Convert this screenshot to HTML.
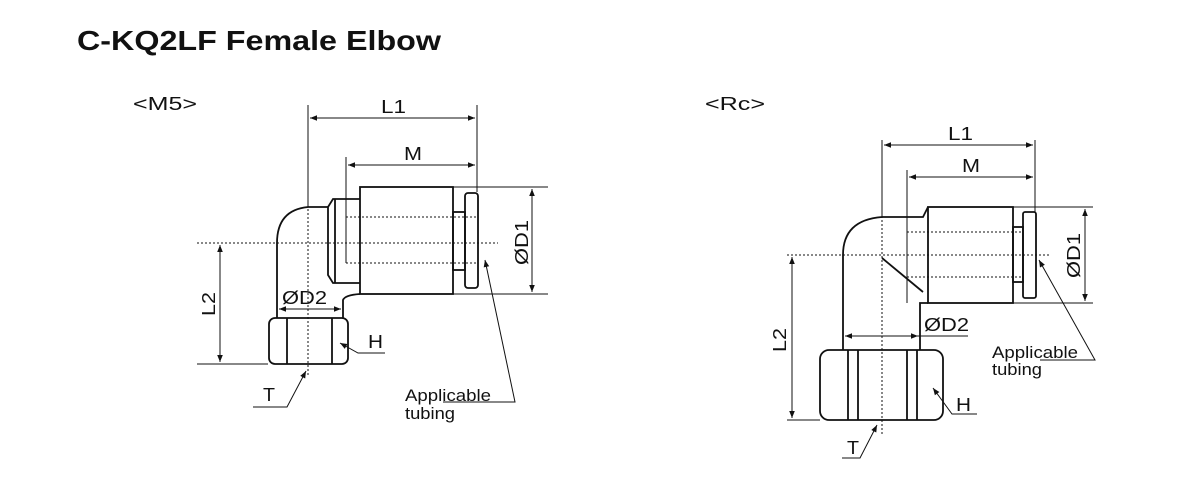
<!DOCTYPE html>
<html><head><meta charset="utf-8"><style>
html,body{margin:0;padding:0;background:#fff;width:1200px;height:500px;overflow:hidden}
svg{display:block}
text{font-family:"Liberation Sans",Arial,sans-serif;fill:#111}
</style></head><body>
<svg width="1200" height="500" viewBox="0 0 1200 500" xmlns="http://www.w3.org/2000/svg">
<defs>
<marker id="a" viewBox="0 0 10 10" refX="10" refY="5" markerWidth="9" markerHeight="7" orient="auto-start-reverse" markerUnits="userSpaceOnUse"><path d="M0,1 L10,5 L0,9 Z" fill="#111"/></marker>
</defs>
<text x="77" y="50" font-size="28" font-weight="bold" textLength="364" lengthAdjust="spacingAndGlyphs">C-KQ2LF Female Elbow</text>
<text x="133" y="110" font-size="18" textLength="64" lengthAdjust="spacingAndGlyphs">&lt;M5&gt;</text>
<text x="705" y="110" font-size="18" textLength="60" lengthAdjust="spacingAndGlyphs">&lt;Rc&gt;</text>

<g stroke="#111" fill="none" stroke-width="1">
<!-- LEFT -->
<line x1="308" y1="105" x2="308" y2="377" stroke-dasharray="2,2"/>
<line x1="308" y1="105" x2="308" y2="206"/>
<line x1="477" y1="105" x2="477" y2="192"/>
<line x1="310" y1="118" x2="475" y2="118" marker-start="url(#a)" marker-end="url(#a)"/>
<line x1="346" y1="157" x2="346" y2="263"/>
<line x1="348" y1="165" x2="475" y2="165" marker-start="url(#a)" marker-end="url(#a)"/>
<line x1="197" y1="243" x2="498" y2="243" stroke-dasharray="2,2"/>
<line x1="346" y1="217" x2="478" y2="217" stroke-dasharray="2,2"/>
<line x1="346" y1="263" x2="478" y2="263" stroke-dasharray="2,2"/>
<line x1="453" y1="187" x2="548" y2="187"/>
<line x1="453" y1="294" x2="548" y2="294"/>
<line x1="532" y1="189" x2="532" y2="292" marker-start="url(#a)" marker-end="url(#a)"/>
<line x1="197" y1="364" x2="268" y2="364"/>
<line x1="220" y1="245" x2="220" y2="362" marker-start="url(#a)" marker-end="url(#a)"/>
<line x1="279" y1="309" x2="341" y2="309" marker-start="url(#a)" marker-end="url(#a)"/>
<polyline points="385,353 358,353 340,343" marker-end="url(#a)"/>
<polyline points="253,407 287,407 306,371" marker-end="url(#a)"/>
<polyline points="443,402 515,402 485,260" marker-end="url(#a)"/>
<g stroke-width="1.8">
<rect x="360" y="187" width="93" height="107"/>
<rect x="453" y="212" width="12" height="58"/>
<rect x="465" y="193" width="13" height="95" rx="3"/>
<path d="M360,199 L333,199 L328,207 L328,275 L333,283 L360,283"/>
<line x1="335" y1="199" x2="335" y2="283"/>
<path d="M328,207 L308,207 Q277,210 277,243 L277,318"/>
<path d="M343,318 L343,300 Q345,295 360,294"/>
<rect x="269" y="318" width="79" height="46" rx="6"/>
<line x1="287" y1="318" x2="287" y2="364"/>
<line x1="332" y1="318" x2="332" y2="364"/>
</g>
<!-- RIGHT -->
<line x1="882" y1="140" x2="882" y2="435" stroke-dasharray="2,2"/>
<line x1="882" y1="140" x2="882" y2="217"/>
<line x1="1035" y1="140" x2="1035" y2="212"/>
<line x1="884" y1="145" x2="1033" y2="145" marker-start="url(#a)" marker-end="url(#a)"/>
<line x1="907" y1="170" x2="907" y2="303"/>
<line x1="909" y1="177" x2="1033" y2="177" marker-start="url(#a)" marker-end="url(#a)"/>
<line x1="787" y1="255" x2="1050" y2="255" stroke-dasharray="2,2"/>
<line x1="907" y1="232" x2="1023" y2="232" stroke-dasharray="2,2"/>
<line x1="907" y1="277" x2="1023" y2="277" stroke-dasharray="2,2"/>
<line x1="1013" y1="207" x2="1093" y2="207"/>
<line x1="1013" y1="303" x2="1093" y2="303"/>
<line x1="1085" y1="209" x2="1085" y2="301" marker-start="url(#a)" marker-end="url(#a)"/>
<line x1="787" y1="420" x2="820" y2="420"/>
<line x1="792" y1="257" x2="792" y2="418" marker-start="url(#a)" marker-end="url(#a)"/>
<line x1="845" y1="336" x2="918" y2="336" marker-start="url(#a)" marker-end="url(#a)"/>
<line x1="918" y1="336" x2="968" y2="336"/>
<polyline points="977,414 952,414 933,388" marker-end="url(#a)"/>
<polyline points="842,458 860,458 877,425" marker-end="url(#a)"/>
<polyline points="1040,360 1095,360 1039,260" marker-end="url(#a)"/>
<g stroke-width="1.8">
<rect x="928" y="207" width="85" height="96"/>
<rect x="1013" y="227" width="10" height="55"/>
<rect x="1023" y="212" width="13" height="86" rx="2"/>
<path d="M928,207 L923,217 L882,217 Q843,220 843,255 L843,350"/>
<path d="M920,350 L920,303 L928,303"/>
<line x1="882" y1="258" x2="923" y2="292"/>
<rect x="820" y="350" width="123" height="70" rx="9"/>
<line x1="848" y1="350" x2="848" y2="420"/>
<line x1="858" y1="350" x2="858" y2="420"/>
<line x1="907" y1="350" x2="907" y2="420"/>
<line x1="917" y1="350" x2="917" y2="420"/>
</g>
</g>

<g font-size="18">
<text x="381" y="113" textLength="25" lengthAdjust="spacingAndGlyphs">L1</text>
<text x="404" y="160" textLength="18" lengthAdjust="spacingAndGlyphs">M</text>
<text x="282" y="304" textLength="45" lengthAdjust="spacingAndGlyphs">ØD2</text>
<text x="368" y="348" textLength="15" lengthAdjust="spacingAndGlyphs">H</text>
<text x="263" y="401" textLength="12" lengthAdjust="spacingAndGlyphs">T</text>
<text x="405" y="401" font-size="17" textLength="86" lengthAdjust="spacingAndGlyphs">Applicable</text>
<text x="405" y="419" font-size="17" textLength="50" lengthAdjust="spacingAndGlyphs">tubing</text>
<text transform="translate(528,265) rotate(-90)" textLength="45" lengthAdjust="spacingAndGlyphs">ØD1</text>
<text transform="translate(215,316) rotate(-90)" textLength="24" lengthAdjust="spacingAndGlyphs">L2</text>

<text x="948" y="140" textLength="25" lengthAdjust="spacingAndGlyphs">L1</text>
<text x="962" y="172" textLength="18" lengthAdjust="spacingAndGlyphs">M</text>
<text x="924" y="331" textLength="45" lengthAdjust="spacingAndGlyphs">ØD2</text>
<text x="956" y="411" textLength="15" lengthAdjust="spacingAndGlyphs">H</text>
<text x="847" y="454" textLength="12" lengthAdjust="spacingAndGlyphs">T</text>
<text x="992" y="358" font-size="17" textLength="86" lengthAdjust="spacingAndGlyphs">Applicable</text>
<text x="992" y="375" font-size="17" textLength="50" lengthAdjust="spacingAndGlyphs">tubing</text>
<text transform="translate(1080,278) rotate(-90)" textLength="45" lengthAdjust="spacingAndGlyphs">ØD1</text>
<text transform="translate(786,352) rotate(-90)" textLength="24" lengthAdjust="spacingAndGlyphs">L2</text>
</g>
</svg>
</body></html>
